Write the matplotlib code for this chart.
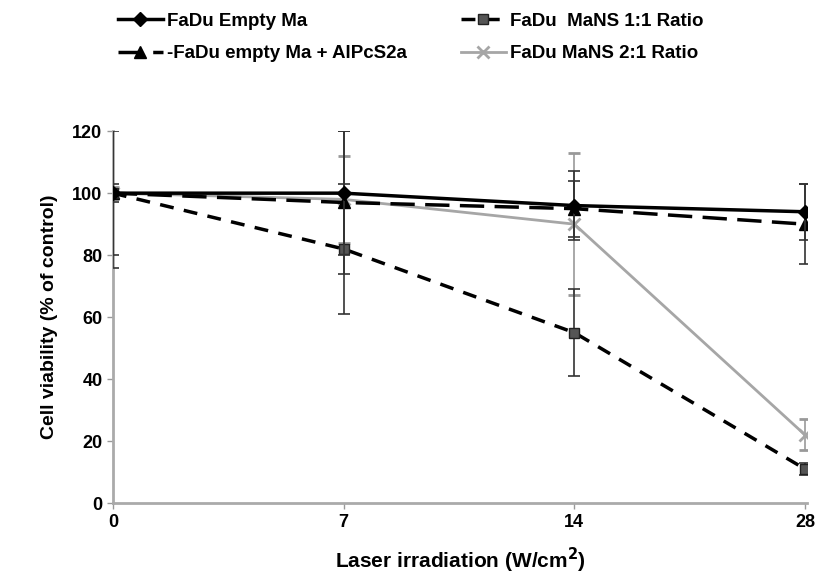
import numpy as np
import matplotlib.pyplot as plt

# data
categories = ['0', '7', '14', '28']
empty_ma = [100, 100, 96, 94]
empty_ma_err = [20, 20, 11, 9]
empty_ma_alpc = [100, 97, 95, 90]
empty_ma_alpc_err = [24, 23, 9, 13]
mans_11 = [100, 82, 55, 11]
mans_11_err = [3, 21, 14, 2]
mans_21 = [100, 98, 90, 22]
mans_21_err = [2, 14, 23, 5]

plt.rcParams['font.family'] = ['Liberation Sans', 'DejaVu Sans']
plt.rcParams['font.weight'] = 'bold'

fig = plt.figure(figsize=(8.18, 5.83), dpi=100)
ax = fig.add_axes([0.138, 0.137, 0.849, 0.638])

x = np.arange(len(categories))
err_kw = dict(capsize=4, elinewidth=1.2, capthick=1.2)

c1 = ax.errorbar(x, empty_ma, yerr=empty_ma_err, color='black', lw=2.5,
                 marker='D', ms=7, ecolor='#333333', label='FaDu Empty Ma',
                 zorder=4, **err_kw)
c2 = ax.errorbar(x, empty_ma_alpc, yerr=empty_ma_alpc_err, color='black',
                 lw=2.5, dashes=(7, 3), marker='^', ms=8, ecolor='#333333',
                 label='-FaDu empty Ma + AlPcS2a', zorder=3, **err_kw)
c3 = ax.errorbar(x, mans_11, yerr=mans_11_err, color='black', lw=2.5,
                 dashes=(4, 3), marker='s', ms=7, mfc='#555555', mec='#222222',
                 ecolor='#333333', label='FaDu  MaNS 1:1 Ratio', zorder=3,
                 **err_kw)
c4 = ax.errorbar(x, mans_21, yerr=mans_21_err, color='#a6a6a6', lw=2,
                 marker='x', ms=8, mew=2, ecolor='#999999',
                 label='FaDu MaNS 2:1 Ratio', zorder=2, **err_kw)

ax.set_xlim(0, 3.01)
ax.set_ylim(0, 120)
ax.set_xticks(x)
ax.set_xticklabels(categories)
ax.set_yticks(np.arange(0, 121, 20))
ax.tick_params(axis='both', labelsize=13, colors='#999999', length=4,
               width=1, labelcolor='black')

for side in ['top', 'right']:
    ax.spines[side].set_visible(False)
for side in ['left', 'bottom']:
    ax.spines[side].set_color('#aaaaaa')
    ax.spines[side].set_linewidth(2)

ax.set_xlabel('Laser irradiation (W/cm$^2$)', fontsize=15, fontweight='bold',
              labelpad=11)
ax.set_ylabel('Cell viability (% of control)', fontsize=14, fontweight='bold',
              labelpad=10)

# legend shows only line + marker, no error bars
containers = [c1, c2, c3, c4]
fig.legend([c.lines[0] for c in containers], [c.get_label() for c in containers],
           ncol=2, loc='upper left', bbox_to_anchor=(0.144, 0.978),
           frameon=False, fontsize=13.5, handlelength=2.4, handletextpad=0.2,
           columnspacing=2.9, labelspacing=0.82, borderpad=0, borderaxespad=0)

fig.savefig('out.png', dpi=100)
